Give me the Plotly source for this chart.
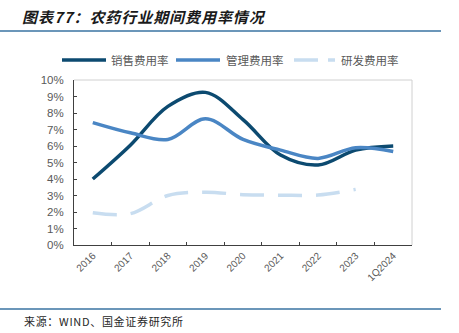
import plotly.graph_objects as go

categories = ["2016", "2017", "2018", "2019", "2020", "2021", "2022", "2023", "1Q2024"]
sales_rate = [4.0, 6.05, 8.4, 9.25, 7.6, 5.45, 4.85, 5.75, 6.0]
mgmt_rate = [7.42, 6.8, 6.4, 7.65, 6.4, 5.75, 5.25, 5.9, 5.67]
rd_rate = [1.95, 1.9, 3.0, 3.2, 3.05, 3.02, 3.03, 3.37, None]
series_names = ["销售费用率", "管理费用率", "研发费用率"]
series_colors = ["#0c4a70", "#4a86c4", "#c8ddf0"]
title_text = "图表77：农药行业期间费用率情况"
source_text = "来源：WIND、国金证券研究所"

W, H = 459, 333
L, R, T, B = 74, 412, 80, 245
pw, ph = R - L, B - T

def px(x):
    return (x - L) / pw

def py(y):
    return (B - y) / ph

cn = "Noto Sans CJK SC"
num = "Liberation Sans"

fig = go.Figure()
dashes = ["solid", "solid", "24px,14px"]
for vals, name, col, dsh in zip([sales_rate, mgmt_rate, rd_rate], series_names, series_colors, dashes):
    fig.add_trace(go.Scatter(x=categories, y=vals, name=name, mode="lines", showlegend=False,
                             line=dict(color=col, width=3.5, shape="spline", smoothing=1.0, dash=dsh)))

# manual legend (positions in pixels)
leg_y = 60
leg_items = [(62, 106, 109), (176, 220, 224), (294, 335, 339)]
shapes = []
annotations = []
for (x0, x1, tx), name, col, dsh in zip(leg_items, series_names, series_colors, ["solid", "solid", "24px,10px"]):
    shapes.append(dict(type="line", xref="paper", yref="paper", x0=px(x0), x1=px(x1),
                       y0=py(leg_y), y1=py(leg_y), line=dict(color=col, width=3.5, dash=dsh)))
    annotations.append(dict(text=name, xref="paper", yref="paper", x=px(tx), y=py(leg_y),
                            xanchor="left", yanchor="middle", showarrow=False,
                            font=dict(family=cn, size=11.5, color="#595959")))

shapes += [
    dict(type="line", xref="paper", yref="paper", x0=0, x1=1, y0=1, y1=1,
         line=dict(color="#d0d0d0", width=1), layer="below"),
    dict(type="line", xref="paper", yref="paper", x0=1, x1=1, y0=0, y1=1,
         line=dict(color="#d0d0d0", width=1), layer="below"),
    dict(type="line", xref="paper", yref="paper", x0=px(0), x1=px(441), y0=py(31), y1=py(31),
         line=dict(color="#3a73a2", width=1.5)),
    dict(type="line", xref="paper", yref="paper", x0=px(0), x1=px(441), y0=py(309), y1=py(309),
         line=dict(color="#3a73a2", width=1.5)),
]
annotations.append(dict(text="\u200a".join(source_text), xref="paper", yref="paper", x=px(22), y=py(321),
                        xanchor="left", yanchor="middle", showarrow=False,
                        font=dict(family=cn, size=11, color="#262626")))

fig.update_layout(
    width=W, height=H,
    margin=dict(l=L, r=W - R, t=T, b=H - B),
    paper_bgcolor="white", plot_bgcolor="white",
    font=dict(family=cn, color="#595959", size=11),
    title=dict(text="<b><i>" + "\u200a".join(title_text) + "</i></b>", x=22 / W, xanchor="left",
               y=1 - 18 / H, yanchor="middle", xref="container", yref="container",
               font=dict(family=cn, size=15, color="#1a1a1a")),
    showlegend=False,
    xaxis=dict(type="category", range=[-0.5, 8.5], tickson="boundaries", ticks="inside",
               ticklen=3, tickcolor="#404040", showline=True, linecolor="#404040", linewidth=1,
               showgrid=False, tickangle=-45, tickfont=dict(family=num, size=10, color="#595959"),
               zeroline=False),
    yaxis=dict(range=[0, 10], dtick=1, ticksuffix="%", ticks="inside", ticklen=3,
               tickcolor="#404040", showline=True, linecolor="#404040", linewidth=1,
               showgrid=False, zeroline=False, ticklabelstandoff=7,
               tickfont=dict(family=num, size=11.5, color="#595959")),
    shapes=shapes,
    annotations=annotations,
)

fig.write_html("out.html")
